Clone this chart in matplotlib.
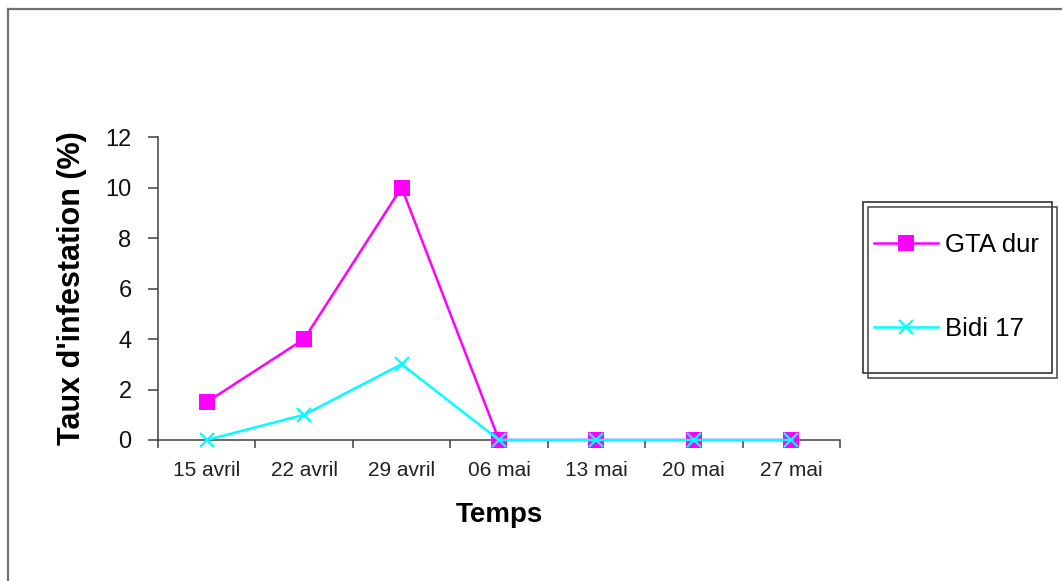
import numpy as np
import matplotlib
matplotlib.use("Agg")
import matplotlib.pyplot as plt
from matplotlib.patches import Rectangle
from matplotlib.lines import Line2D

plt.rcParams['font.family'] = ['Liberation Sans', 'DejaVu Sans']

# dates de relevé et taux d'infestation (%)
DATES = ["15 avril", "22 avril", "29 avril", "06 mai", "13 mai", "20 mai", "27 mai"]
GTA_DUR = [1.5, 4, 10, 0, 0, 0, 0]
BIDI_17 = [0, 1, 3, 0, 0, 0, 0]
Y_TICKS = [0, 2, 4, 6, 8, 10, 12]

W, H = 1062, 581
fig = plt.figure(figsize=(W / 100, H / 100), dpi=100)

# cadre de la zone du graphique (bords droit et bas hors image)
fig.add_artist(Line2D([8 / W, 1.0], [1 - 9 / H, 1 - 9 / H], color="#707070", lw=1.6))
fig.add_artist(Line2D([8 / W, 8 / W], [0.0, 1 - 9 / H], color="#707070", lw=1.6))

ax = fig.add_axes([158 / W, 141 / H, 682 / W, 303 / H])
x = np.arange(len(DATES))

l1, = ax.plot(x, GTA_DUR, color="#FF00FF", lw=1.8, marker="s", markersize=11,
              markeredgewidth=0, label="GTA dur", zorder=3, clip_on=False)
l2, = ax.plot(x, BIDI_17, color="#00FFFF", lw=1.8, marker="x", markersize=10.5,
              markeredgewidth=1.6, label="Bidi 17", zorder=4, clip_on=False)

ax.set_xlim(-0.5, len(DATES) - 0.5)
ax.set_ylim(0, 12)
ax.set_yticks(Y_TICKS)
ax.set_yticklabels([str(v) for v in Y_TICKS], fontsize=17)

# graduations entre les catégories, étiquettes au centre
ax.set_xticks(x)
ax.set_xticklabels(DATES, fontsize=15)
ax.set_xticks(np.arange(len(DATES) + 1) - 0.5, minor=True)
ax.tick_params(axis="x", which="major", length=0, pad=15, colors="#222222")
ax.tick_params(axis="x", which="minor", length=6, width=1.1, direction="out", color="#404040")
ax.tick_params(axis="y", length=7, width=1.1, direction="out", pad=12, color="#404040",
               labelcolor="#111111")

for side in ["top", "right"]:
    ax.spines[side].set_visible(False)
for side in ["left", "bottom"]:
    ax.spines[side].set_color("#404040")
    ax.spines[side].set_linewidth(1.1)

ax.set_xlabel("Temps", fontsize=20, fontweight="bold", labelpad=16)
ax.set_ylabel("Taux d'infestation (%)", fontsize=22, fontweight="bold", labelpad=13)

# légende à double cadre
fig.add_artist(Rectangle((863 / W, 1 - 373 / H), 189 / W, 171 / H, fill=False,
                         ec="#222222", lw=1.1, transform=fig.transFigure))
fig.add_artist(Rectangle((868 / W, 1 - 378 / H), 189 / W, 171 / H, fill=False,
                         ec="#444444", lw=1.1, transform=fig.transFigure))
fig.legend(handles=[l1, l2], loc="center left", bbox_to_anchor=(874 / W, 1 - 287 / H),
           frameon=False, fontsize=18.5, labelspacing=2.3, handlelength=2.5,
           handletextpad=0.25, borderpad=0, borderaxespad=0)

fig.savefig("out.png", dpi=100)
